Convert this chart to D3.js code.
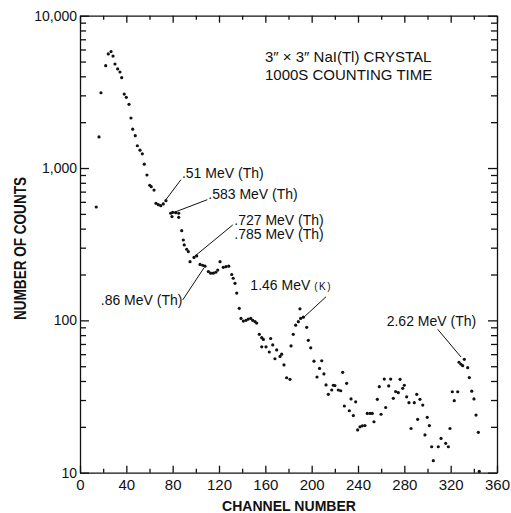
<!DOCTYPE html>
<html>
<head>
<meta charset="utf-8">
<script src="https://cdn.jsdelivr.net/npm/d3@7"></script>
<style>
  body { margin: 0; background: #fff; }
  svg { display: block; font-family: "Liberation Sans", Arial, Helvetica, sans-serif; }
  .axis path, .axis line { stroke: #111; stroke-width: 1.3; }
  .axis text { fill: #111; }
</style>
</head>
<body>
<svg width="511" height="513"></svg>
<script>
// channel number of every plotted point
var channel = [
  14, 16.4, 18.1, 22.2, 24.4, 26.8, 28.5, 30.2, 32.5, 34.5, 36, 38.2, 40, 42.3, 44, 45.5, 47.7, 49.5,
  51.8, 53.8, 55.5, 57.8, 60.2, 61.5, 63.9, 65.6, 67.6, 69.7, 71.9, 74.2, 78.3, 79.4, 80, 82.6, 85.2, 85.2,
  87.8, 89.2, 90, 92.1, 93.5, 95, 98.4, 100.7, 103.6, 105.9, 107.9, 110.8, 112.8, 115.1, 117.2, 118.9,
  120.9, 123.7, 126, 128.4, 131, 132.3, 133.8, 135.3, 137.5, 139, 141, 143.3, 145.3, 147.4, 149.1, 151.1,
  152.5, 154.8, 156.9, 158.3, 156.9, 160.6, 163.4, 164.6, 166.4, 168.3, 169.8, 172.7, 174.1, 176.1, 178.4,
  181.3, 182.2, 184.1, 186.2, 188.5, 189.9, 190.5, 192.8, 195.7, 197.1, 199.2, 202, 204.6, 206.8, 208.7,
  210.6, 212.4, 214.4, 217.3, 218.7, 220.1, 223, 225.1, 226.8, 228.2, 230.2, 232.5, 234, 236, 238, 239.7,
  241.7, 243.7, 246, 248, 250.4, 252.3, 253.8, 256.7, 258.4, 259.9, 262.7, 263.9, 266.5, 268.2, 270.5,
  272.5, 274.8, 276.3, 278.6, 280, 282, 284, 285.8, 288.6, 290.7, 291.5, 293.5, 295.9, 297.8, 299.8,
  301.6, 303.6, 305, 309.3, 311.7, 315.7, 318, 319.4, 321.4, 323.1, 326.1, 327.2, 328.9, 330.4, 331.8,
  334.7, 336.1, 338.2, 340.1, 341.9, 343.9, 344.7
];
// number of counts, same order
var counts = [
  555, 1600, 3120, 4700, 5610, 5810, 5430, 4820, 4470, 4270, 3920, 3060, 2910, 2620, 2130, 1800, 1630, 1400,
  1310, 1240, 1060, 900, 771, 755, 717, 587, 575, 566, 581, 611, 505, 480, 512, 509, 505, 475,
  388, 337, 313, 293, 283, 243, 259, 265, 233, 230, 227, 209, 204, 204, 207, 214,
  243, 223, 225, 227, 200, 189, 175, 151, 120, 103, 99, 100, 102, 103, 100, 98,
  96, 81, 77, 75, 67, 67, 62, 76, 69, 56, 64, 58, 60, 51, 42,
  41, 68, 81, 93, 98, 119, 103, 105, 90, 74, 66, 54, 42.5, 48.4, 54.3,
  44.5, 37.7, 32.7, 34.9, 37.5, 37.3, 34.9, 34.5, 45.6, 27.4, 38.6, 25.5, 30.5, 23.7, 29.2, 19.1,
  20, 20.3, 20.4, 24.5, 24.5, 24.5, 21.6, 30.3, 36.7, 24.2, 41.2, 26.8, 37.1, 41.2, 30.8,
  34.1, 33.5, 41, 35.8, 37.5, 31.5, 28.8, 19.5, 28.8, 32.7, 22.4, 30.3, 27.8, 17.7, 23.1,
  20.4, 14.8, 12, 14.8, 16.8, 15.6, 14.8, 19.5, 34, 29.7, 34, 53.1, 51.5, 50.4, 55.5,
  48.9, 42.1, 34.3, 30.5, 23.9, 18.4, 10.2
];

var xMajor = [0, 40, 80, 120, 160, 200, 240, 280, 320, 360];
var xMinor = [20, 60, 100, 140, 180, 220, 260, 300, 340];
var yMajor = [10, 100, 1000, 10000];

var titleLines = ["3\u2033 \u00d7 3\u2033 NaI(Tl) CRYSTAL", "1000S COUNTING TIME"];

// peak labels: point the leader at (ch, count)
var peaks = [
  { text: [".51 MeV (Th)"], ch: 74.2, count: 620, lx: 15, ly: -20, tx: 16, ty: -22, anchor: "start" },
  { text: [".583 MeV (Th)"], ch: 80.5, count: 509, lx: 34, ly: -13, tx: 35, ty: -13.5, anchor: "start" },
  { text: [".727 MeV (Th)", ".785 MeV (Th)"], ch: 97.8, count: 259, lx: 39.5, ly: -32.5, tx: 41, ty: -32.4, anchor: "start" },
  { text: [".86 MeV (Th)"], ch: 107, count: 221, lx: -21.2, ly: 32, tx: -21.5, ty: 37.5, anchor: "end" },
  { text: ["1.46 MeV "], small: "(K)", ch: 192.8, count: 104, lx: 22.7, ly: -21, tx: 28.7, ty: -27.8, anchor: "end" },
  { text: ["2.62 MeV (Th)"], ch: 328.9, count: 57.5, lx: -23.3, ly: -27.7, tx: -74.3, ty: -31, anchor: "start" }
];

var svg = d3.select("svg");
var mLeft = 80, mRight = 497, mTop = 15.7, mBottom = 472.7;

var x = d3.scaleLinear().domain([0, 360]).range([mLeft, mRight]);
var y = d3.scaleLog().domain([10, 10000]).range([mBottom, mTop]);

var yMinor = [];
yMajor.slice(0, 3).forEach(function(d) {
  for (var k = 2; k <= 9; k++) yMinor.push(d * k);
});

// bottom axis
svg.append("g").attr("class", "axis").attr("transform", "translate(0," + mBottom + ")")
  .call(d3.axisBottom(x).tickValues(xMajor).tickSizeInner(-7).tickSizeOuter(0).tickPadding(7))
  .call(function(g) { g.selectAll("text").style("font-size", "15px"); });
svg.append("g").attr("class", "axis").attr("transform", "translate(0," + mBottom + ")")
  .call(d3.axisBottom(x).tickValues(xMinor).tickSizeInner(-4).tickSizeOuter(0).tickFormat(""))
  .select(".domain").remove();

// top axis, ticks only
svg.append("g").attr("class", "axis").attr("transform", "translate(0," + mTop + ")")
  .call(d3.axisTop(x).tickValues(xMajor).tickSizeInner(-7).tickSizeOuter(0).tickFormat(""));
svg.append("g").attr("class", "axis").attr("transform", "translate(0," + mTop + ")")
  .call(d3.axisTop(x).tickValues(xMinor).tickSizeInner(-4).tickSizeOuter(0).tickFormat(""))
  .select(".domain").remove();

// left axis
svg.append("g").attr("class", "axis").attr("transform", "translate(" + mLeft + ",0)")
  .call(d3.axisLeft(y).tickValues(yMajor).tickSizeInner(-9).tickSizeOuter(0).tickPadding(3).tickFormat(d3.format(",")))
  .call(function(g) { g.selectAll("text").style("font-size", "14px"); });
svg.append("g").attr("class", "axis").attr("transform", "translate(" + mLeft + ",0)")
  .call(d3.axisLeft(y).tickValues(yMinor).tickSizeInner(-6).tickSizeOuter(0).tickFormat(""))
  .select(".domain").remove();

// right axis
svg.append("g").attr("class", "axis").attr("transform", "translate(" + mRight + ",0)")
  .call(d3.axisRight(y).tickValues(yMajor).tickSizeInner(-9).tickSizeOuter(0).tickFormat(""));
svg.append("g").attr("class", "axis").attr("transform", "translate(" + mRight + ",0)")
  .call(d3.axisRight(y).tickValues(yMinor).tickSizeInner(-6).tickSizeOuter(0).tickFormat(""))
  .select(".domain").remove();

// axis titles (condensed bold, as in the print)
svg.append("text")
  .attr("x", 222).attr("y", 511)
  .attr("textLength", 134).attr("lengthAdjust", "spacingAndGlyphs")
  .style("font-size", "15px").style("font-weight", "bold").attr("fill", "#111")
  .text("CHANNEL NUMBER");
svg.append("text")
  .attr("transform", "translate(26,320) rotate(-90)")
  .attr("textLength", 143).attr("lengthAdjust", "spacingAndGlyphs")
  .style("font-size", "17px").style("font-weight", "bold").attr("fill", "#111")
  .text("NUMBER OF COUNTS");

// header
svg.append("g").selectAll("text")
  .data(titleLines)
  .enter().append("text")
  .attr("x", 265).attr("y", function(d, i) { return 62 + i * 18; })
  .style("font-size", "15px").attr("fill", "#111")
  .text(function(d) { return d; });

// points
svg.append("g").selectAll("circle")
  .data(channel)
  .enter().append("circle")
  .attr("cx", function(d) { return x(d); })
  .attr("cy", function(d, i) { return y(counts[i]); })
  .attr("r", 1.6)
  .attr("fill", "#111");

// peak labels
var ann = svg.append("g").selectAll("g")
  .data(peaks)
  .enter().append("g")
  .attr("transform", function(d) { return "translate(" + x(d.ch) + "," + y(d.count) + ")"; });
ann.append("line")
  .attr("x1", 0).attr("y1", 0)
  .attr("x2", function(d) { return d.lx; }).attr("y2", function(d) { return d.ly; })
  .attr("stroke", "#111").attr("stroke-width", 1);
ann.each(function(d) {
  var g = d3.select(this);
  d.text.forEach(function(t, i) {
    var txt = g.append("text")
      .attr("x", d.tx).attr("y", d.ty + i * 13.5)
      .attr("text-anchor", d.anchor)
      .style("font-size", "14px").attr("fill", "#111")
      .text(t);
    if (d.small) {
      txt.append("tspan").style("font-size", "10px").attr("letter-spacing", "1.5").text(d.small);
    }
  });
});
</script>
</body>
</html>
